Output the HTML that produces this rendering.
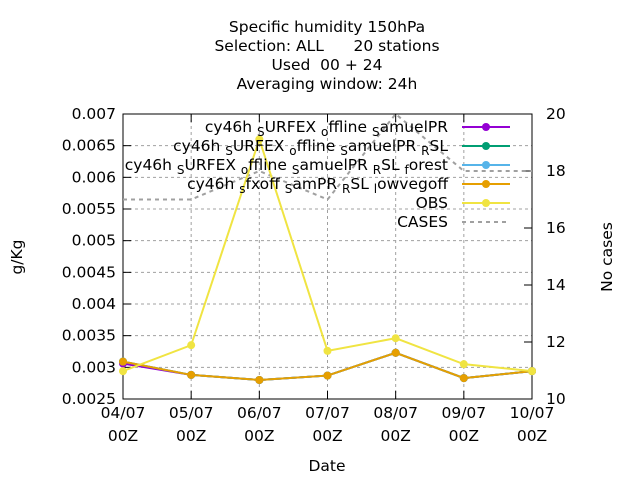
<!DOCTYPE html>
<html><head><meta charset="utf-8"><style>
body{margin:0;background:#fff}
svg{font-family:"DejaVu Sans","Liberation Sans",sans-serif;font-size:15.5px}
.s{font-size:12px}
</style></head><body>
<svg id="c" width="640" height="480">
<g text-anchor="middle">
<text x="327" y="32">Specific humidity 150hPa</text>
<text x="327" y="51" xml:space="preserve">Selection: ALL      20 stations</text>
<text x="327" y="70" xml:space="preserve">Used  00 + 24</text>
<text x="327" y="89">Averaging window: 24h</text>
</g>
<g id="grid"></g><g id="axes"></g><g id="series"></g>
<text x="22" y="257" transform="rotate(-90 22 257)" text-anchor="middle">g/Kg</text>
<text x="612" y="257" transform="rotate(-90 612 257)" text-anchor="middle">No cases</text>
<text x="327" y="471" text-anchor="middle">Date</text>
<g id="legend" text-anchor="end"></g>
</svg>
<script>
const categories=["04/07","05/07","06/07","07/07","08/07","09/07","10/07"];
const yTicks=[0.0025,0.003,0.0035,0.004,0.0045,0.005,0.0055,0.006,0.0065,0.007];
const y2Ticks=[10,12,14,16,18,20];
const purple=[0.00306,0.00288,0.0028,0.00287,0.00323,0.00283,0.00294];
const green=[0.00309,0.00288,0.0028,0.00287,0.00323,0.00283,0.00294];
const blue=[0.00309,0.00288,0.0028,0.00287,0.00323,0.00283,0.00294];
const orange=[0.00309,0.00288,0.0028,0.00287,0.00323,0.00283,0.00294];
const obs=[0.00294,0.00335,0.0066,0.00326,0.00346,0.00305,0.00294];
const cases=[17,17,18,17,20,18,18];
const L=123,R=532,T=114,B=399;
const X=i=>L+(R-L)*i/(categories.length-1);
const Y=v=>B-(v-0.0025)/(0.007-0.0025)*(B-T);
const Y2=v=>B-(v-10)/(20-10)*(B-T);
const NS="http://www.w3.org/2000/svg";
function mk(t,a,p){const e=document.createElementNS(NS,t);for(const k in a)e.setAttribute(k,a[k]);p.appendChild(e);return e;}
const grid=document.getElementById('grid'),axes=document.getElementById('axes'),ser=document.getElementById('series'),leg=document.getElementById('legend');
yTicks.forEach(v=>{const y=Y(v);
 if(v>0.0025&&v<0.007){const g=mk('line',{x1:L,x2:R,y1:y,y2:y,stroke:'#a0a0a0','stroke-dasharray':'3,3'},grid);
 
 }
 mk('line',{x1:L,x2:L+8,y1:y,y2:y,stroke:'#000'},axes);
 const t=mk('text',{x:L-7,y:y+5,'text-anchor':'end'},axes);t.textContent=String(v);
 
 });
y2Ticks.forEach(v=>{const y=Y2(v);
 mk('line',{x1:R-8,x2:R,y1:y,y2:y,stroke:'#000'},axes);
 const t=mk('text',{x:R+14,y:y+5},axes);t.textContent=v;
 
 });
categories.forEach((c,i)=>{const x=X(i);
 if(i>0&&i<categories.length-1){const g=mk('line',{x1:x,x2:x,y1:T,y2:B,stroke:'#a0a0a0','stroke-dasharray':'3,3'},grid);
 
 }
 mk('line',{x1:x,x2:x,y1:B,y2:B-8,stroke:'#000'},axes);mk('line',{x1:x,x2:x,y1:T,y2:T+8,stroke:'#000'},axes);
 const t=mk('text',{x:x,y:418,'text-anchor':'middle'},axes);t.textContent=c;
 const t2=mk('text',{x:x,y:441,'text-anchor':'middle'},axes);t2.textContent="00Z";
 
 });
const fr=mk('rect',{x:L,y:T,width:R-L,height:B-T,fill:'none',stroke:'#000'},axes);


const cp=mk('path',{d:cases.map((v,i)=>(i?'L':'M')+X(i)+','+Y2(v)).join(''),fill:'none',stroke:'#a0a0a0','stroke-width':2,'stroke-dasharray':'4,4'},ser);


const S=[[purple,'#9400d3','purple'],[green,'#009e73','green'],[blue,'#56b4e9','blue'],[orange,'#e69f00','orange'],[obs,'#f0e442','obs']];
S.forEach(([d,col,n])=>{const p=mk('path',{d:d.map((v,i)=>(i?'L':'M')+X(i)+','+Y(v)).join(''),fill:'none',stroke:col,'stroke-width':2},ser);
 
 
 d.forEach((v,i)=>{const m=mk('circle',{cx:X(i),cy:Y(v),r:4,fill:col},ser);
 
 });});
const labels=[
 [['cy46h ',0],['S',1],['URFEX ',0],['o',1],['ffline ',0],['S',1],['amuelPR',0]],
 [['cy46h ',0],['S',1],['URFEX ',0],['o',1],['ffline ',0],['S',1],['amuelPR ',0],['R',1],['SL',0]],
 [['cy46h ',0],['S',1],['URFEX ',0],['o',1],['ffline ',0],['S',1],['amuelPR ',0],['R',1],['SL ',0],['f',1],['orest',0]],
 [['cy46h ',0],['s',1],['fxoff ',0],['S',1],['amPR ',0],['R',1],['SL ',0],['l',1],['owvegoff',0]],
 [['OBS',0]],[['CASES',0]]];
const lc=['#9400d3','#009e73','#56b4e9','#e69f00','#f0e442','#a0a0a0'];
labels.forEach((parts,k)=>{const y=127+k*19;
 const t=mk('text',{x:448,y:y+5,'xml:space':'preserve'},leg);
 let cur=0;
 parts.forEach(([s,sub])=>{const off=sub?4:0;const a={dy:off-cur};if(sub)a.class='s';cur=off;
  const ts=mk('tspan',a,t);ts.textContent=s;});
 
 
 const a=k<5?{x1:462,x2:510,y1:y,y2:y,stroke:lc[k],'stroke-width':2}:{x1:462,x2:506,y1:y,y2:y,stroke:lc[k],'stroke-width':2,'stroke-dasharray':'4,4'};
 mk('line',a,leg);
 if(k<5)mk('circle',{cx:486,cy:y,r:4,fill:lc[k]},leg);});
</script>
</body></html>
